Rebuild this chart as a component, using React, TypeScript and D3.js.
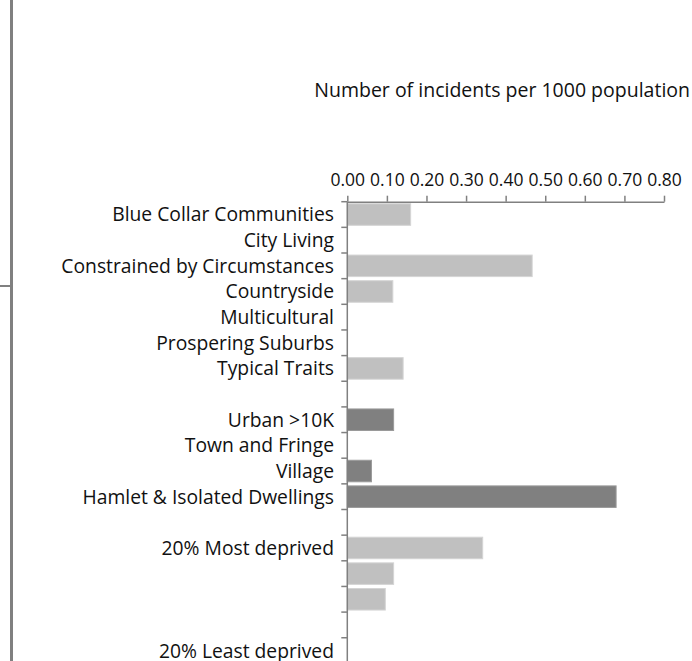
import { useEffect, useRef } from 'react';
import * as d3 from 'd3';

// rows of the chart, blank keys are spacer rows
const rowKeys = [
  'blue', 'city', 'constrained', 'country', 'multi', 'prosper', 'typical', 'gap1',
  'urban', 'town', 'village', 'hamlet', 'gap2',
  'q1', 'q2', 'q3', 'q4', 'q5',
];
const rowLabels = [
  'Blue Collar Communities', 'City Living', 'Constrained by Circumstances', 'Countryside',
  'Multicultural', 'Prospering Suburbs', 'Typical Traits', '',
  'Urban >10K', 'Town and Fringe', 'Village', 'Hamlet & Isolated Dwellings', '',
  '20% Most deprived', '', '', '', '20% Least deprived',
];
const rowValues = [
  0.16, 0, 0.467, 0.115, 0, 0, 0.141, 0,
  0.117, 0, 0.061, 0.679, 0,
  0.342, 0.117, 0.096, 0, 0,
];
// 'l' = light grey group, 'd' = dark grey group
const rowGroups = [
  'l', 'l', 'l', 'l', 'l', 'l', 'l', 'l',
  'd', 'd', 'd', 'd', 'd',
  'l', 'l', 'l', 'l', 'l',
];
const xTicks = [0, 0.1, 0.2, 0.3, 0.4, 0.5, 0.6, 0.7, 0.8];

const FONT = '"Open Sans", Lato, sans-serif';
const AXIS = '#808080';

export default function App() {
  const ref = useRef<SVGSVGElement>(null);

  useEffect(() => {
    if (!ref.current) return;
    const svg = d3.select(ref.current);
    svg.selectAll('*').remove();

    const top = 201.7;
    const x = d3.scaleLinear().domain([0, 0.8]).range([347.3, 664]);
    const y = d3.scaleBand().domain(rowKeys).range([top, top + 25.65 * rowKeys.length])
      .paddingInner(0.16).paddingOuter(0.08);
    const step = y.step();
    const gapHalf = y.paddingInner() * step / 2;

    // stray frame line on the left
    svg.append('line').attr('x1', 11.5).attr('x2', 11.5).attr('y1', 0).attr('y2', 661)
      .attr('stroke', AXIS).attr('stroke-width', 3);
    svg.append('line').attr('x1', 0).attr('x2', 11).attr('y1', 286).attr('y2', 286)
      .attr('stroke', AXIS).attr('stroke-width', 2);

    svg.append('text').attr('x', 690).attr('y', 97).attr('text-anchor', 'end')
      .attr('font-family', FONT).attr('font-size', '19.5px').attr('fill', '#111')
      .text('Number of incidents per 1000 population');

    // bars
    svg.selectAll('.bar').data(rowKeys).enter().append('rect')
      .attr('x', x(0))
      .attr('y', k => y(k)!)
      .attr('height', y.bandwidth())
      .attr('width', (_, i) => x(rowValues[i]) - x(0))
      .attr('fill', (_, i) => rowGroups[i] === 'd' ? '#808080' : '#c0c0c0')
      .attr('stroke', (_, i) => rowValues[i] > 0 ? (rowGroups[i] === 'd' ? '#9a9a9a' : '#d4d4d4') : 'none')
      .attr('stroke-width', 1);

    // x axis on top
    const xa = svg.append('g').attr('transform', `translate(0,${top})`)
      .call(d3.axisTop(x).tickValues(xTicks).tickFormat(d3.format('.2f')).tickSize(6).tickSizeOuter(0).tickPadding(10));
    xa.select('.domain').attr('stroke', AXIS).attr('stroke-width', 1.5);
    xa.selectAll('.tick line').attr('stroke', AXIS).attr('stroke-width', 1.5);
    xa.selectAll('.tick text').attr('fill', '#111').attr('font-family', FONT).attr('font-size', '17.5px');

    // y axis with ticks between rows
    svg.append('line').attr('x1', x(0)).attr('x2', x(0)).attr('y1', top).attr('y2', 661)
      .attr('stroke', AXIS).attr('stroke-width', 1.5);
    svg.selectAll('.ytick').data(rowKeys).enter().append('line')
      .attr('x1', x(0) - 6).attr('x2', x(0))
      .attr('y1', k => y(k)! - gapHalf)
      .attr('y2', k => y(k)! - gapHalf)
      .attr('stroke', AXIS).attr('stroke-width', 1.5);

    svg.selectAll('.ylab').data(rowKeys).enter().append('text')
      .attr('x', 334)
      .attr('y', k => y(k)! + y.bandwidth() / 2)
      .attr('dy', '0.36em')
      .attr('text-anchor', 'end')
      .attr('font-family', FONT).attr('font-size', '19.3px').attr('fill', '#111')
      .text((_, i) => rowLabels[i]);
  }, []);

  return (
    <svg ref={ref} width={692} height={661}
      style={{ position: 'absolute', left: 0, top: 0, background: '#fff' }} />
  );
}
